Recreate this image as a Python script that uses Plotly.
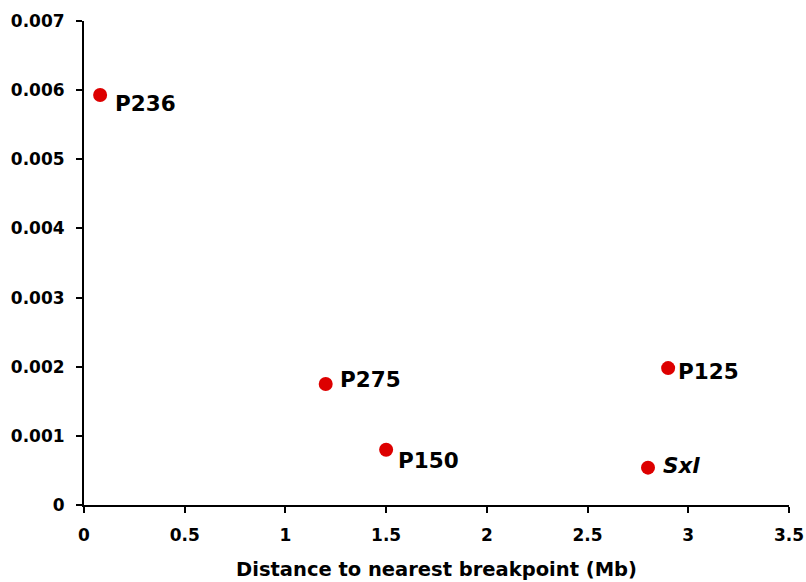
import plotly.graph_objects as go

names = ["P236", "P275", "P150", "Sxl", "P125"]
label_text = ["P236", "P275", "P150", "<i>Sxl</i>", "P125"]
distance_mb = [0.08, 1.20, 1.50, 2.80, 2.90]
value = [0.00593, 0.00175, 0.00080, 0.00054, 0.00198]
x_ticks = [0, 0.5, 1, 1.5, 2, 2.5, 3, 3.5]
y_ticks = [0, 0.001, 0.002, 0.003, 0.004, 0.005, 0.006, 0.007]

label_shift = [(13, -9), (12, 5), (10, -11), (13, 2), (8, -3)]

FONT = "Verdana, DejaVu Sans, sans-serif"

fig = go.Figure()
fig.add_trace(go.Scatter(
    x=distance_mb, y=value, mode="markers",
    marker=dict(color="#DD0000", size=14, line=dict(width=0)),
    cliponaxis=False, showlegend=False, hoverinfo="text", text=names,
))

for xv, yv, t, (dx, dy) in zip(distance_mb, value, label_text, label_shift):
    fig.add_annotation(
        x=xv, y=yv, xref="x", yref="y", text="<b>" + t + "</b>",
        showarrow=False, xanchor="left", yanchor="middle",
        xshift=dx, yshift=dy,
        font=dict(family=FONT, size=21.5, color="black"),
    )

fig.update_layout(
    width=806, height=582,
    margin=dict(l=84, r=17, t=21, b=77, autoexpand=False),
    paper_bgcolor="white", plot_bgcolor="white",
    font=dict(family=FONT, color="black"),
)
fig.update_xaxes(
    range=[0, 3.5], tickvals=x_ticks, ticktext=[f"<b>{v:g}</b>" for v in x_ticks],
    showgrid=False, zeroline=False, showline=True, linecolor="black", linewidth=2,
    ticks="outside", ticklen=6, tickwidth=2, tickcolor="black",
    tickfont=dict(family=FONT, size=17), automargin=False, ticklabelstandoff=8,
    title=dict(text="<b>Distance to nearest breakpoint (Mb)</b>",
               font=dict(family=FONT, size=19.5), standoff=18),
)
fig.update_yaxes(
    range=[0, 0.007], tickvals=y_ticks, ticktext=[f"<b>{v:g}</b>" for v in y_ticks],
    showgrid=False, zeroline=False, showline=True, linecolor="black", linewidth=2,
    ticks="outside", ticklen=6, tickwidth=2, tickcolor="black",
    tickfont=dict(family=FONT, size=17), automargin=False, ticklabelstandoff=8,
)

fig.write_html(
    "out.html",
    config={"displayModeBar": False},
    post_script="document.body.style.margin='0';document.documentElement.style.overflow='hidden';",
)
